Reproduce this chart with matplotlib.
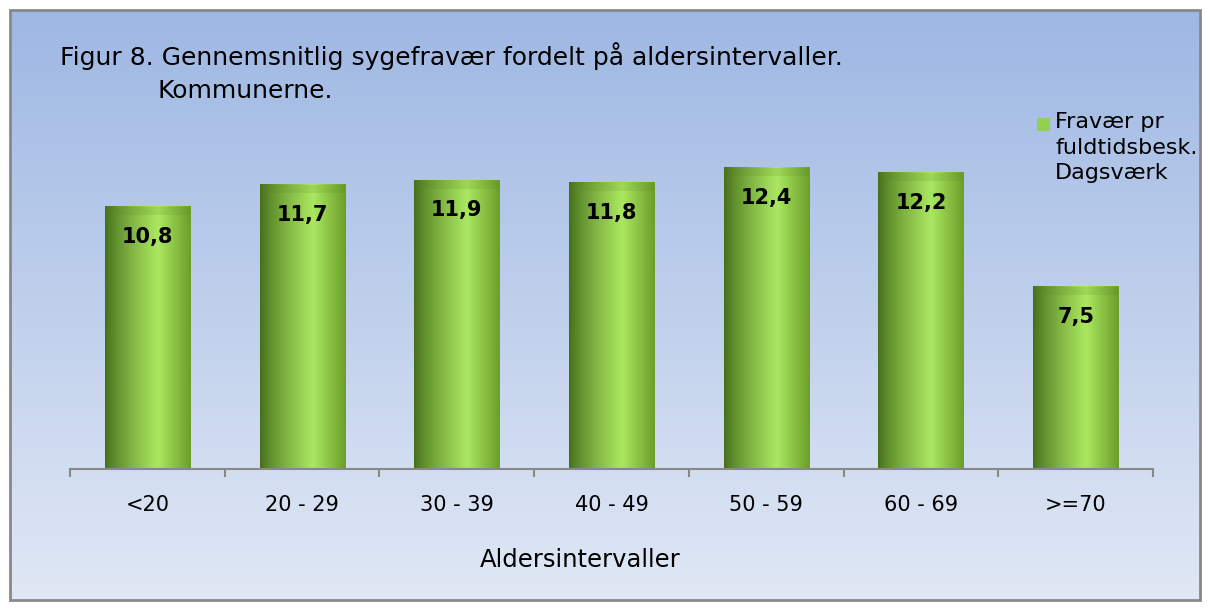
import matplotlib.pyplot as plt
import numpy as np
from matplotlib.patches import Rectangle

# data
categories = ['<20', '20 - 29', '30 - 39', '40 - 49', '50 - 59', '60 - 69', '>=70']
values = [10.8, 11.7, 11.9, 11.8, 12.4, 12.2, 7.5]
value_labels = ['10,8', '11,7', '11,9', '11,8', '12,4', '12,2', '7,5']
legend_label = 'Fravær pr\nfuldtidsbesk.\nDagsværk'

plt.rcParams['font.family'] = ['DejaVu Sans']

W, H = 1210, 608
fig = plt.figure(figsize=(W / 100, H / 100), dpi=100)

# background panel with vertical gradient and gray border (pixel coords)
bg = fig.add_axes([0, 0, 1, 1])
bg.set_xlim(0, W)
bg.set_ylim(H, 0)
bg.axis('off')
top = np.array([0.62, 0.72, 0.89])
bot = np.array([0.88, 0.91, 0.96])
t = np.linspace(0, 1, 256)[:, None]
grad = top + (bot - top) * t
grad = np.repeat(grad[:, None, :], 2, axis=1)
bg.imshow(grad, extent=[10, 1200, 600, 10], aspect='auto', zorder=0)
bg.add_patch(Rectangle((10, 10), 1190, 590, fill=False, edgecolor='#888888', lw=2, zorder=1))

# main axes (pixel layout: x 70..1153, y 129..469)
x0, x1, y0, y1 = 70, 1153, 129, 469
ax = fig.add_axes([x0 / W, 1 - y1 / H, (x1 - x0) / W, (y1 - y0) / H])
ax.patch.set_alpha(0)

# horizontal cylinder-like shading for the bars
u = np.linspace(0, 1, 200)
dark = np.array([0.27, 0.43, 0.10])
light = np.array([0.67, 0.91, 0.38])
right = np.array([0.42, 0.62, 0.16])
w = np.where(u < 0.62, (u / 0.62) ** 0.8, 1 - (u - 0.62) / 0.38)
cols = np.where((u < 0.62)[:, None], dark + (light - dark) * w[:, None],
                right + (light - right) * w[:, None])
bar_img = np.repeat(cols[None, :, :], 2, axis=0)

bw = 0.55
for i, v in enumerate(values):
    ax.imshow(bar_img, extent=[i - bw / 2, i + bw / 2, 0, v], aspect='auto',
              interpolation='bicubic', zorder=2)
    # slight darker cap at the top
    ax.add_patch(Rectangle((i - bw / 2, v - 0.35), bw, 0.35, facecolor='#5a7a20',
                           alpha=0.15, lw=0, zorder=3))
    ax.text(i, v - 1.25, value_labels[i], ha='center', va='center',
            fontsize=15, fontweight='bold', color='black', zorder=4)

ax.set_aspect('auto')
ax.set_xlim(-0.5, len(categories) - 0.5)
ax.set_ylim(0, 14)

for s in ['top', 'right', 'left']:
    ax.spines[s].set_visible(False)
ax.spines['bottom'].set_color('#888888')
ax.spines['bottom'].set_linewidth(1.5)
ax.set_yticks([])
ax.set_xticks(range(len(categories)))
ax.set_xticklabels(categories, fontsize=15)
ax.tick_params(axis='x', which='major', length=0, pad=19)
ax.set_xticks(np.arange(-0.5, len(categories), 1), minor=True)
ax.tick_params(axis='x', which='minor', length=6, color='#888888', width=1.5)

# axis title
fig.text(580 / W, 1 - 567 / H, 'Aldersintervaller', fontsize=17.5, ha='center', va='baseline')

# title
fig.text(60 / W, 1 - 65 / H, 'Figur 8. Gennemsnitlig sygefravær fordelt på aldersintervaller.',
         fontsize=18, ha='left', va='baseline')
fig.text(157 / W, 1 - 98 / H, 'Kommunerne.', fontsize=18, ha='left', va='baseline')

# legend
bg.add_patch(Rectangle((1037, 118), 13, 13, facecolor='#92d050', lw=0, zorder=2))
bg.text(1055, 112, legend_label, fontsize=16, ha='left', va='top', linespacing=1.35)

fig.savefig('out.png', dpi=100)
